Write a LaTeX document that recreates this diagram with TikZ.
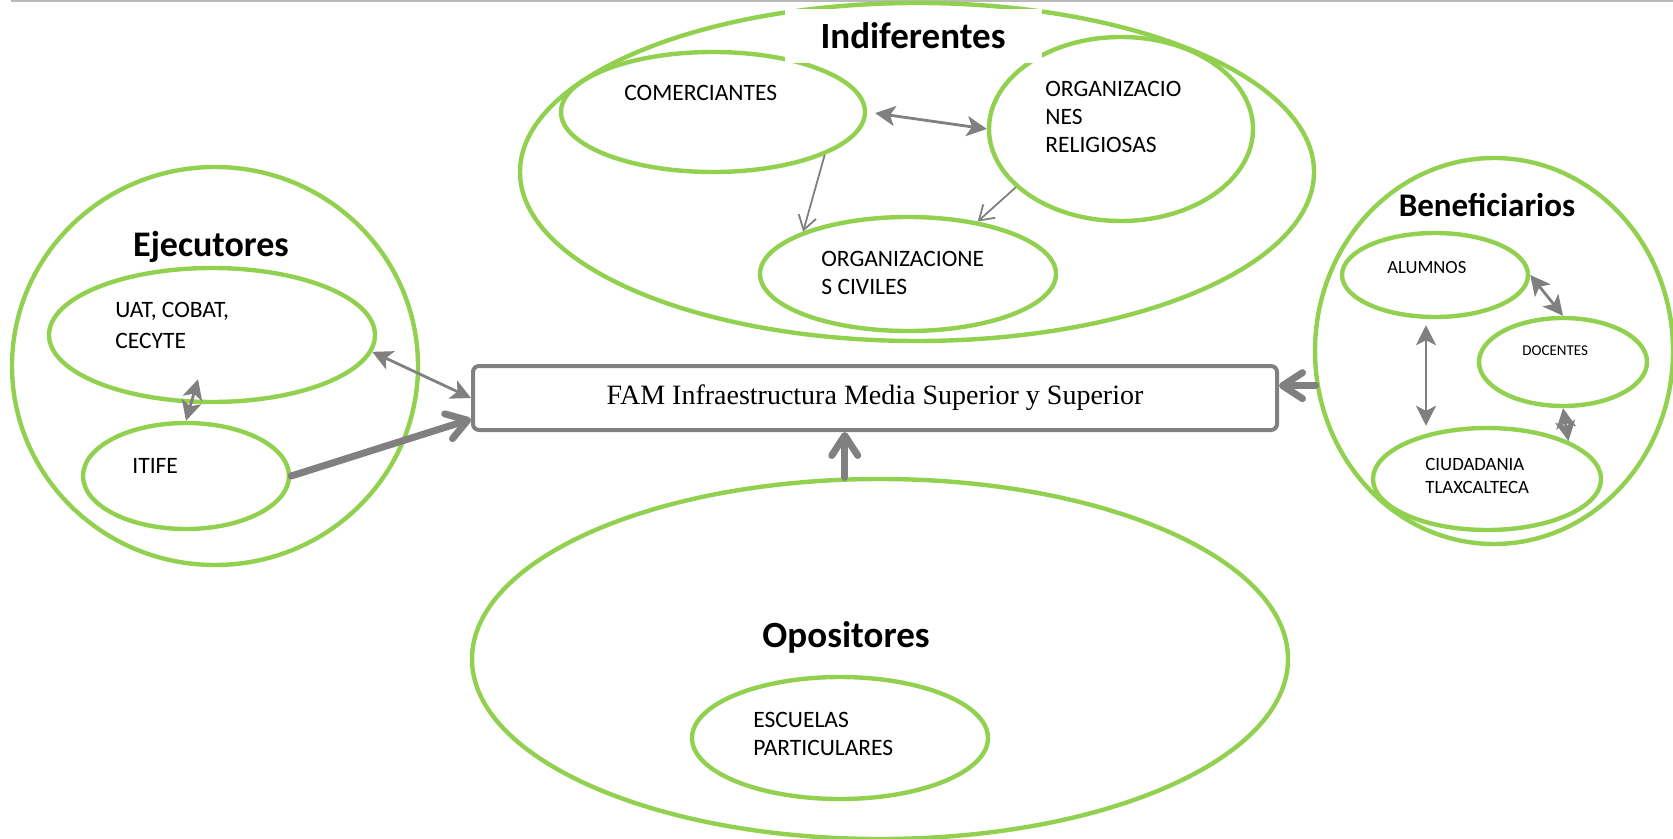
\documentclass[tikz,border=0pt]{standalone}
\usepackage{fontspec}
\setmainfont{Carlito}
\newfontfamily\timesfont{Liberation Serif}
\usetikzlibrary{arrows.meta,shapes.geometric}
\definecolor{verde}{RGB}{146,208,80}
\definecolor{gris}{RGB}{128,128,128}

\begin{document}
\begin{tikzpicture}[x=0.5pt,y=-0.5pt,
    grupo/.style={draw=verde, line width=2.2pt, ellipse, inner sep=0pt},
    texto/.style={inner sep=0pt, anchor=base west, align=left, font=\fontsize{11.75}{14}\selectfont},
    titulo/.style={inner sep=0pt, anchor=base, font=\bfseries\fontsize{18.5}{22}\selectfont},
    doble/.style={draw=gris, line width=1.4pt, {Stealth[length=10pt,width=10pt,inset=2.5pt]}-{Stealth[length=10pt,width=10pt,inset=2.5pt]}},
    fina/.style={draw=gris, line width=0.9pt, -{Straight Barb[length=7pt,width=9pt]}},
    gruesa/.style={draw=gris, line width=3.5pt, line cap=round, -{Straight Barb[length=10pt,width=13pt,round]}}]
  \useasboundingbox (0,0) rectangle (1673,839);
  \draw[gray!55, line width=1.2pt] (11,1) -- (1673,1);

  %Indiferentes
  \node[grupo, minimum width=397pt, minimum height=169pt] (ind) at (917,172) {};
  \node[grupo, minimum width=152pt, minimum height=60pt] (com) at (713,112) {};
  \node[grupo, minimum width=132pt, minimum height=92pt] (rel) at (1121,129) {};
  \node[grupo, minimum width=148pt, minimum height=57pt] (civ) at (908,274) {};
  \node[titulo, fill=white, minimum width=128.5pt, minimum height=27pt] (indtit) at (913,49) {Indiferentes};
  \node[texto] (comtx) at (624,101) {COMERCIANTES};
  \node[texto] (reltx) at (1045,153) {ORGANIZACIO\\NES\\RELIGIOSAS};
  \node[texto] (civtx) at (821,295) {ORGANIZACIONE\\S CIVILES};

  %Ejecutores
  \node[grupo, minimum width=203pt, minimum height=199pt] (eje) at (215,366) {};
  \node[grupo, minimum width=163pt, minimum height=67pt] (uat) at (212,335) {};
  \node[grupo, minimum width=103pt, minimum height=53pt] (itife) at (186,476) {};
  \node[titulo, font=\bfseries\fontsize{18}{22}\selectfont] (ejetit) at (211,257) {Ejecutores};
  \node[texto, font=\fontsize{11.75}{15}\selectfont] (uattx) at (115,348) {UAT, COBAT,\\CECYTE};
  \node[texto] (itifetx) at (132,473) {ITIFE};

  %Opositores
  \node[grupo, minimum width=408pt, minimum height=180pt] (opo) at (880,659) {};
  \node[grupo, minimum width=148pt, minimum height=61pt] (esc) at (840,738) {};
  \node[titulo] (opotit) at (846,647) {Opositores};
  \node[texto] (esctx) at (753,755) {ESCUELAS\\PARTICULARES};

  %Beneficiarios
  \node[grupo, minimum width=179pt, minimum height=193pt] (ben) at (1494,351) {};
  \node[grupo, minimum width=93pt, minimum height=42pt] (alu) at (1435,275) {};
  \node[grupo, minimum width=84pt, minimum height=44pt] (doc) at (1563,362) {};
  \node[grupo, minimum width=114pt, minimum height=51pt] (ciu) at (1487,479) {};
  \node[titulo, font=\bfseries\fontsize{16.5}{20}\selectfont] (bentit) at (1487,217) {Beneficiarios};
  \node[texto, font=\fontsize{9.3}{11.5}\selectfont] (alutx) at (1387,274) {ALUMNOS};
  \node[texto, font=\fontsize{7.5}{9}\selectfont] (doctx) at (1522,355) {DOCENTES};
  \node[texto, font=\fontsize{9.4}{11.5}\selectfont] (ciutx) at (1425,493) {CIUDADANIA\\TLAXCALTECA};

  %Centro
  \node[draw=gris, line width=2pt, rounded corners=3pt, minimum width=402pt, minimum height=32pt,
        font=\timesfont\fontsize{14}{16}\selectfont] (fam) at (875,398) {FAM Infraestructura Media Superior y Superior};

  %Relaciones
  \draw[doble, shorten <=4pt] (com.east) -- (rel.west);
  \draw[fina] (com.-21) -- (civ.158);
  \draw[fina] (rel.209) -- (civ.37);
  \draw[doble] (uat.-6) -- (fam.west);
  \draw[doble] (itife.north) -- ([shift={(-14,-25)}]uat.south);
  \draw[gruesa] (itife.east) -- (fam.183);
  \draw[gruesa] (opo.101) -- (opo.101 |- fam.south);
  \draw[gruesa] (ben.191) -- (ben.191 -| fam.east);
  \draw[doble] (alu.east) -- (doc.north);
  \coordinate (alub) at ([shift={(-9,0)}]alu.south);
  \draw[doble, shorten <=3pt] (alub) -- (alub |- ciu.north);
  \draw[doble] (doc.south) -- (ciu.25);
\end{tikzpicture}
\end{document}
